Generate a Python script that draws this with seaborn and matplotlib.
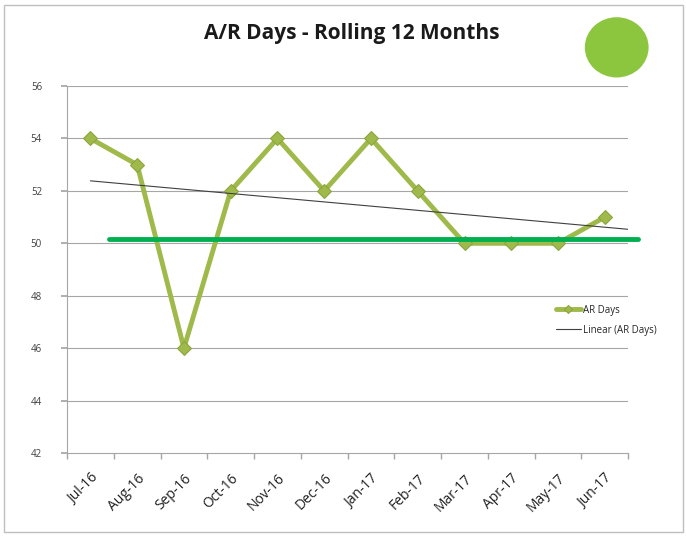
import numpy as np
import pandas as pd
import matplotlib
matplotlib.use("Agg")
import matplotlib.pyplot as plt
from matplotlib.patches import Ellipse, Rectangle
import seaborn as sns

months = ["Jul-16", "Aug-16", "Sep-16", "Oct-16", "Nov-16", "Dec-16",
          "Jan-17", "Feb-17", "Mar-17", "Apr-17", "May-17", "Jun-17"]
ar_days = [54, 53, 46, 52, 54, 52, 54, 52, 50, 50, 50, 51]
target = 50.15
y_ticks = [42, 44, 46, 48, 50, 52, 54, 56]

sns.set_theme(style="white")
plt.rcParams['font.family'] = ['Open Sans', 'DejaVu Sans']

df = pd.DataFrame({"Month": months, "AR Days": ar_days})

fig = plt.figure(figsize=(6.86, 5.38), dpi=100)
ax = fig.add_axes([0.0977, 0.158, 0.818, 0.682])

# frame round the whole picture
fig.patches.append(Rectangle((0.006, 0.012), 0.99, 0.978, transform=fig.transFigure,
                             fill=False, edgecolor="#bfbfbf", linewidth=1.0))

for t in y_ticks[1:]:
    ax.axhline(t, color="#a6a6a6", linewidth=0.8, zorder=0)

sns.lineplot(data=df, x="Month", y="AR Days", sort=False, ax=ax,
             color="#9fba4a", linewidth=3.5, marker="D", markersize=7,
             markerfacecolor="#9fba4a", markeredgecolor="#8aa43c",
             label="AR Days", zorder=3)

# linear trendline
xs = np.arange(len(ar_days))
slope, icpt = np.polyfit(xs, ar_days, 1)
xt = np.array([0, len(ar_days) - 0.5])
ax.plot(xt, icpt + slope * xt, color="#404040", linewidth=0.8,
        label="Linear (AR Days)", zorder=4)

# target line
ax.plot([0.4, 11.71], [target, target], color="#00b050", linewidth=3.5,
        clip_on=False, zorder=5)

ax.set_xlim(-0.5, 11.5)
ax.set_ylim(42, 56)
ax.set_yticks(y_ticks)
ax.set_yticklabels([str(t) for t in y_ticks], fontsize=7, color="#404040")
ax.set_xticks(xs)
ax.set_xticklabels(months, rotation=45, ha="right", rotation_mode="anchor",
                   fontsize=10, color="#202020")
ax.set_xticks(np.arange(-0.5, 12, 1), minor=True)
ax.tick_params(axis="x", which="major", length=0, pad=13)
ax.tick_params(axis="x", which="minor", length=4, color="#a6a6a6", direction="out", bottom=True)
ax.tick_params(axis="y", length=4, color="#a6a6a6", direction="out", left=True, pad=14)
ax.set_xlabel("")
ax.set_ylabel("")
for s in ["top", "right"]:
    ax.spines[s].set_visible(False)
for s in ["left", "bottom"]:
    ax.spines[s].set_color("#a6a6a6")
    ax.spines[s].set_linewidth(0.8)

leg = ax.legend(loc="center left", bbox_to_anchor=(0.855, 0.362), frameon=False,
                fontsize=7, handlelength=2.6, labelspacing=0.9, handletextpad=0.2,
                markerscale=0.6)

fig.text(0.513, 0.938, "A/R Days - Rolling 12 Months", ha="center", va="center",
         fontsize=15, fontweight="bold", color="#1a1a1a")

fig.patches.append(Ellipse((0.899, 0.912), 0.093, 0.112, transform=fig.transFigure,
                           facecolor="#8cc63f", edgecolor="none"))

fig.savefig("out.png", dpi=100)
